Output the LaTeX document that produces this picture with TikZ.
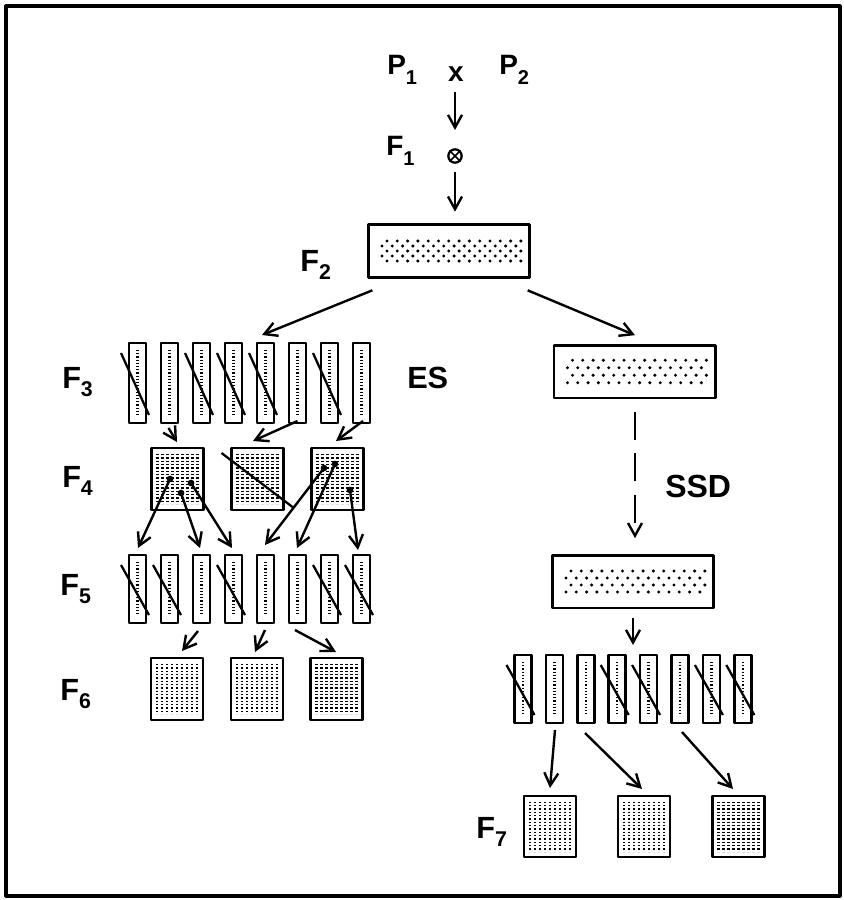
\documentclass[tikz,border=0pt]{standalone}
\usepackage{fontspec}
\setmainfont{Liberation Sans}
\usetikzlibrary{arrows.meta,calc}
\newcommand\sbs[2]{#1\raisebox{-6pt}{\fontsize{16}{16}\selectfont #2}}
\newcommand\sbt[2]{#1\raisebox{-8pt}{\fontsize{15}{15}\selectfont #2}}
\newcommand\bardots[1]{\draw[line width=1.8pt, dash pattern=on 0.9pt off 1.5pt] ($(#1.north)+(0,7)$) -- ($(#1.south)+(0,-7)$);}
\newcommand\sqdots[1]{\begin{scope}[shift={(#1.center)}]\foreach \c in {-20,-15,...,20} \draw[line width=1.9pt, dash pattern=on 1.1pt off 1.4pt] (\c,-25) -- (\c,25);\end{scope}}
\newcommand\widedots[3]{\begin{scope}[shift={(#1.center)}]\foreach \r in {1,...,#2} \foreach \c in {0,...,13} \fill ({-67+\c*10.3+mod(\r,2)*5},{(\r-(#2+1)/2)*#3}) circle (1.25pt);\end{scope}}
\newcommand\xout[1]{\draw[crossln] ($(#1.north west)+(-8,10)$) -- ($(#1.south east)+(3,-8)$);}
\begin{document}
\begin{tikzpicture}[x=0.75pt,y=-0.75pt,line join=round,
  box/.style={draw,line width=2pt,inner sep=0pt,outer sep=0pt},
  bar/.style={box,minimum width=12.75pt},
  sq/.style={box,minimum width=39pt,minimum height=46.5pt},
  wide/.style={box,minimum width=121pt,minimum height=39.5pt},
  arr/.style={line width=1.8pt,-{Straight Barb[length=9.5pt,width=10.5pt]}},
  crossln/.style={line width=1.7pt},
  lab/.style={anchor=base west,inner sep=0pt,font=\bfseries\fontsize{23}{23}\selectfont},
  tlab/.style={anchor=base west,inner sep=0pt,font=\bfseries\fontsize{21}{21}\selectfont},
  blob/.style={circle,fill,inner sep=0pt,minimum size=5pt}]
\useasboundingbox (0,0) rectangle (843,900);
\draw[line width=2.4pt] (6,6) rectangle (840,896);

% top
\node[tlab] (p1) at (387,74) {\sbt{P}{1}};
\node[anchor=base,inner sep=0pt,font=\bfseries\fontsize{21}{21}\selectfont] (tx) at (456,81) {x};
\node[tlab] (p2) at (499,74) {\sbt{P}{2}};
\node[tlab] (f1l) at (386,155) {\sbt{F}{1}};
\node[circle,draw,line width=1.7pt,minimum size=10pt,inner sep=0pt] (ot) at (455,156) {};
\draw[line width=1.3pt] (ot.north east) -- (ot.south west) (ot.north west) -- (ot.south east);

% F2
\node[wide] (f2) at (449,251) {};
\widedots{f2}{5}{5}
\node[lab] (lf2) at (300,271) {\sbs{F}{2}};
\draw[arr] ($(ot.center)+(0,-64)$) -- ($(ot.center)+(0,-26)$);
\draw[arr] ($(ot.center)+(0,16)$) -- ($(ot.center |- f2.north)+(0,-13)$);

% F3
\foreach \n/\i in {a/0,b/1,c/2,d/3,e/4,f/5,g/6,h/7}
  \node[bar,minimum height=60pt] (f3\n) at ({137.5+32*\i},383) {};
\foreach \n in {a,...,h} {\bardots{f3\n}}
\foreach \n in {a,c,d,e,g} {\xout{f3\n}}
\node[lab] (lf3) at (62,388) {\sbs{F}{3}};
\node[lab] (les) at (407,388) {ES};

% F2 -> F3 and R1
\node[wide] (r1) at (634.5,371.5) {};
\widedots{r1}{4}{7.5}
\draw[arr] ($(f2.south west)+(4,13)$) -- ($(f3e.north)+(-3.5,-8)$);
\draw[arr] ($(f2.south east)+(-2,13)$) -- ($(r1.north)+(0.5,-10)$);

% F4
\node[sq] (f4a) at (177.5,479) {};
\node[sq] (f4b) at (257.5,479) {};
\node[sq] (f4c) at (337.5,479) {};
\foreach \n in {a,b,c} {\sqdots{f4\n}}
\node[lab] (lf4) at (62,487) {\sbs{F}{4}};
\draw[crossln] ($(f4b.north west)+(-10,5)$) -- ($(f4b.south east)+(9,-3)$);
\draw[arr] ($(f3b.south)+(-1,5)$) -- ($(f4a.north)+(-0.5,-6)$);
\draw[arr] ($(f3f.south)+(0,-2)$) -- ($(f4b.north)+(-4.5,-7)$);
\draw[arr] ($(f3h.south)+(1.5,-2)$) -- ($(f4c.north)+(-1.5,-7)$);
\node[blob] (d1) at ($(f4a.center)+(-7.5,0)$) {};
\node[blob] (d2) at ($(f4a.center)+(13.5,4)$) {};
\node[blob] (d3) at ($(f4a.center)+(3.5,14)$) {};
\node[blob] (e1) at ($(f4c.center)+(-13.5,-11)$) {};
\node[blob] (e2) at ($(f4c.center)+(-2.5,-15)$) {};
\node[blob] (e3) at ($(f4c.center)+(12.5,11)$) {};

% F5
\foreach \n/\i in {a/0,b/1,c/2,d/3,e/4,f/5,g/6,h/7}
  \node[bar,minimum height=51pt] (f5\n) at ({137.5+32*\i},589) {};
\foreach \n in {a,...,h} {\bardots{f5\n}}
\foreach \n in {a,b,d,g,h} {\xout{f5\n}}
\node[lab] (lf5) at (60,595) {\sbs{F}{5}};
\draw[arr] (d1.center) -- ($(f5a.north)+(0.5,-7)$);
\draw[arr] (d3.center) -- ($(f5c.north)+(-1.5,-7)$);
\draw[arr] (d2.center) -- ($(f5d.north)+(-1.5,-7)$);
\draw[arr] (e1.center) -- ($(f5e.north)+(-0.5,-10)$);
\draw[arr] (e2.center) -- ($(f5f.north)+(-0.5,-7)$);
\draw[arr] (e3.center) -- ($(f5h.north)+(-3.5,-5)$);

% F6
\node[sq] (f6a) at (177,689) {};
\node[sq] (f6b) at (257,689) {};
\node[sq] (f6c) at (336.5,689) {};
\foreach \n in {a,b,c} {\sqdots{f6\n}}
\node[lab] (lf6) at (60,700) {\sbs{F}{6}};
\draw[arr] ($(f5c.south)+(-3.5,8)$) -- ($(f6a.north)+(5,-7)$);
\draw[arr] ($(f5e.south)+(-0.5,7)$) -- ($(f6b.north)+(-2,-6)$);
\draw[arr] ($(f5f.south)+(-2.5,7)$) -- ($(f6c.north)+(-0.5,-6)$);

% right side
\node[wide] (r2) at (633,581.5) {};
\widedots{r2}{4}{7}
\draw[arr,dash pattern=on 21pt off 10pt] ($(r1.south)+(0.5,14)$) -- ($(r2.north)+(2,-17)$);
\node[anchor=base west,inner sep=0pt,font=\bfseries\fontsize{24}{24}\selectfont] (lssd) at (665,497) {SSD};
\foreach \n/\i in {a/0,b/1,c/2,d/3,e/4,f/5,g/6,h/7}
  \node[bar,minimum height=51pt] (g\n) at ({523+31.4*\i},689) {};
\foreach \n in {a,...,h} {\bardots{g\n}}
\foreach \n in {a,d,e,g,h} {\xout{g\n}}
\draw[arr] ($(r2.south)+(0,10)$) -- ($(r2.south |- ga.north)+(0,-10)$);

% F7
\node[sq,minimum height=45.75pt] (f7a) at (550,826.5) {};
\node[sq,minimum height=45.75pt] (f7b) at (644,826.5) {};
\node[sq,minimum height=45.75pt] (f7c) at (738.5,826.5) {};
\foreach \n in {a,b,c} {\sqdots{f7\n}}
\node[lab] (lf7) at (476,838) {\sbs{F}{7}};
\draw[arr] ($(gb.south)+(0.6,7)$) -- ($(f7a.north)+(0,-8)$);
\draw[arr] ($(gc.south)+(-0.8,10)$) -- ($(f7b.north)+(-2,-7)$);
\draw[arr] ($(gf.south)+(2,9)$) -- ($(f7c.north)+(-5.5,-7)$);
\end{tikzpicture}
\end{document}
